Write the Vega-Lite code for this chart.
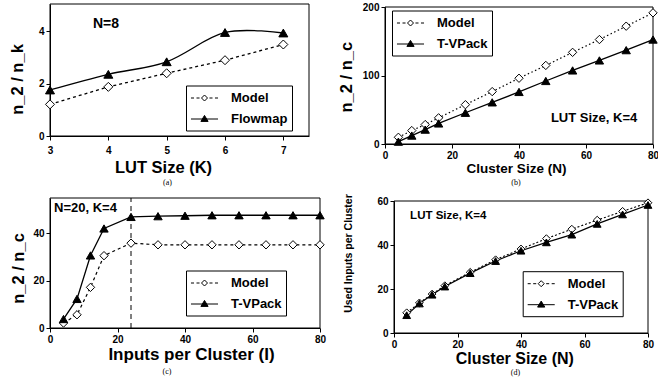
{
"$schema":"https://vega.github.io/schema/vega-lite/v6.json",
"padding":{"left":8,"top":2,"right":0,"bottom":4},
"background":"white",
"config":{
 "view":{"stroke":null},
 "font":"Liberation Sans",
 "axis":{"domainColor":"black","tickColor":"black","labelColor":"black","titleColor":"black","labelFont":"Liberation Sans","labelFontWeight":"bold","labelFontSize":10,"titleFont":"Liberation Sans","titleFontWeight":"bold","grid":false,"tickSize":4,"labelPadding":2,"labelFlush":false,"labelOverlap":false,"titleBaseline":"alphabetic","titleAlign":"center"},
 "legend":{"orient":"none","padding":4,"rowPadding":5,"symbolSize":256,"symbolOffset":6,"labelOffset":18,"labelFontSize":13,"labelFont":"Liberation Sans","labelFontWeight":"bold","labelColor":"black","strokeColor":"black","fillColor":"white","symbolStrokeColor":"black","symbolStrokeWidth":1,"symbolOpacity":1},
 "title":{"font":"Liberation Serif","fontSize":8,"fontWeight":"normal","color":"black","orient":"bottom"}
},
"datasets":{
 "a":[{"series":"Model","x":3,"y":1.21},{"series":"Model","x":4,"y":1.88},{"series":"Model","x":5,"y":2.40},{"series":"Model","x":6,"y":2.90},{"series":"Model","x":7,"y":3.50},
      {"series":"Flowmap","x":3,"y":1.76},{"series":"Flowmap","x":4,"y":2.36},{"series":"Flowmap","x":5,"y":2.84},{"series":"Flowmap","x":6,"y":3.96},{"series":"Flowmap","x":7,"y":3.94}],
 "b":[{"series":"Model","x":4,"y":9.8},{"series":"Model","x":8,"y":19.6},{"series":"Model","x":12,"y":28.4},{"series":"Model","x":16,"y":38.2},{"series":"Model","x":24,"y":57.4},{"series":"Model","x":32,"y":76.5},{"series":"Model","x":40,"y":96},{"series":"Model","x":48,"y":114.7},{"series":"Model","x":56,"y":133.8},{"series":"Model","x":64,"y":152.5},{"series":"Model","x":72,"y":172},{"series":"Model","x":80,"y":191.5},
      {"series":"T-VPack","x":4,"y":3.4},{"series":"T-VPack","x":8,"y":12.3},{"series":"T-VPack","x":12,"y":21},{"series":"T-VPack","x":16,"y":30},{"series":"T-VPack","x":24,"y":45.6},{"series":"T-VPack","x":32,"y":60.8},{"series":"T-VPack","x":40,"y":76},{"series":"T-VPack","x":48,"y":92},{"series":"T-VPack","x":56,"y":107.4},{"series":"T-VPack","x":64,"y":122},{"series":"T-VPack","x":72,"y":137},{"series":"T-VPack","x":80,"y":152.5}],
 "c":[{"series":"Model","x":4,"y":2.1},{"series":"Model","x":8,"y":5.6},{"series":"Model","x":12,"y":17.2},{"series":"Model","x":16,"y":30.6},{"series":"Model","x":24,"y":35.9},{"series":"Model","x":32,"y":35.2},{"series":"Model","x":40,"y":35.2},{"series":"Model","x":48,"y":35.2},{"series":"Model","x":56,"y":35.2},{"series":"Model","x":64,"y":35.2},{"series":"Model","x":72,"y":35.2},{"series":"Model","x":80,"y":35.2},
      {"series":"T-VPack","x":4,"y":3.8},{"series":"T-VPack","x":8,"y":12.3},{"series":"T-VPack","x":12,"y":30.7},{"series":"T-VPack","x":16,"y":42.1},{"series":"T-VPack","x":24,"y":47.0},{"series":"T-VPack","x":32,"y":47.3},{"series":"T-VPack","x":40,"y":47.5},{"series":"T-VPack","x":48,"y":47.7},{"series":"T-VPack","x":56,"y":47.7},{"series":"T-VPack","x":64,"y":47.7},{"series":"T-VPack","x":72,"y":47.7},{"series":"T-VPack","x":80,"y":47.7}],
 "d":[{"series":"Model","x":4,"y":9.2},{"series":"Model","x":8,"y":13.7},{"series":"Model","x":12,"y":17.7},{"series":"Model","x":16,"y":21.5},{"series":"Model","x":24,"y":27.6},{"series":"Model","x":32,"y":33.3},{"series":"Model","x":40,"y":38.2},{"series":"Model","x":48,"y":42.9},{"series":"Model","x":56,"y":47.2},{"series":"Model","x":64,"y":51.3},{"series":"Model","x":72,"y":55.3},{"series":"Model","x":80,"y":59.2},
      {"series":"T-VPack","x":4,"y":8.1},{"series":"T-VPack","x":8,"y":13.4},{"series":"T-VPack","x":12,"y":17.4},{"series":"T-VPack","x":16,"y":21.1},{"series":"T-VPack","x":24,"y":27.2},{"series":"T-VPack","x":32,"y":32.7},{"series":"T-VPack","x":40,"y":37.4},{"series":"T-VPack","x":48,"y":41.2},{"series":"T-VPack","x":56,"y":44.7},{"series":"T-VPack","x":64,"y":49.6},{"series":"T-VPack","x":72,"y":53.9},{"series":"T-VPack","x":80,"y":58.2}]
},
"columns":2,
"spacing":{"row":54,"column":65},
"bounds":"flush",
"resolve":{"scale":{"fill":"independent","shape":"independent","x":"independent","y":"independent"},"legend":{"fill":"independent","shape":"independent"},"axis":{"x":"independent","y":"independent"}},
"concat":[
  {"width":259,"height":132,
   "title":{"text":"(a)","dx":-12,"offset":3},
   "data":{"name":"a"},
   "layer":[
    {"data":{"values":[{}]},"mark":{"type":"rect","filled":false,"color":"black","strokeWidth":1},"encoding":{"x":{"datum":3},"x2":{"datum":7.44},"y":{"datum":0},"y2":{"datum":5.05}}},
    {"transform":[{"filter":"datum.series === 'Model'"}],"mark":{"type":"line","color":"black","strokeWidth":1.3,"strokeDash":[3,3]},
     "encoding":{"x":{"field":"x","type":"quantitative","scale":{"domain":[3,7.44],"nice":false,"zero":false},"axis":{"values":[3,4,5,6,7],"format":"d","title":"LUT Size (K)","titleFontSize":16.5,"titleX":113,"titleY":36.6,"labelPadding":5}},
                 "y":{"field":"y","type":"quantitative","scale":{"domain":[0,5.05],"nice":false},"axis":{"values":[0,1,2,3,4,5],"format":"d","labelExpr":"datum.value % 2 === 0 ? datum.label : ''","title":"n_2 / n_k","titleFontSize":16.5,"titleX":-28,"titleY":75}}}},
    {"transform":[{"filter":"datum.series === 'Flowmap'"}],"mark":{"type":"line","color":"black","strokeWidth":1.3,"interpolate":"cardinal"},
     "encoding":{"x":{"field":"x","type":"quantitative"},"y":{"field":"y","type":"quantitative"}}},
    {"mark":{"type":"point","filled":true,"stroke":"black","strokeWidth":1,"opacity":1,"size":81},
     "encoding":{"x":{"field":"x","type":"quantitative"},"y":{"field":"y","type":"quantitative"},
      "shape":{"field":"series","type":"nominal","scale":{"domain":["Flowmap","Model"],"range":["triangle-up","diamond"]},"legend":null},
      "fill":{"field":"series","type":"nominal","scale":{"domain":["Model","Flowmap"],"range":["white","black"]},
       "legend":{"title":null,"legendX":136,"legendY":81.5,"labelExpr":"datum.label + '      '",
        "symbolType":{"expr":"datum.value === 'Model' ? 'M-1.69,0H-1.31M-1,0H-0.62M0.62,0H1M1.31,0H1.69M0,-0.375L0.375,0L0,0.375L-0.375,0Z' : 'M-1.69,0H1.69M-0.45,0.3L0,-0.45L0.45,0.3Z'"},
        "encode":{"legend":{"strokeWidth":{"value":1.2}}}}}}},
    {"data":{"values":[{}]},"mark":{"type":"text","text":"N=8","font":"Liberation Sans","fontWeight":"bold","fontSize":14,"color":"black"},"encoding":{"x":{"datum":3.96},"y":{"datum":4.28}}}
   ]},
  {"width":268,"height":140,
   "title":{"text":"(b)","dx":-3,"offset":3.5},
   "data":{"name":"b"},
   "layer":[
    {"data":{"values":[{}]},"mark":{"type":"rect","filled":false,"color":"black","strokeWidth":1},"encoding":{"x":{"datum":0},"x2":{"datum":80},"y":{"datum":0},"y2":{"datum":200}}},
    {"transform":[{"filter":"datum.series === 'Model'"}],"mark":{"type":"line","color":"black","strokeWidth":1.2,"strokeDash":[1.5,2.5]},
     "encoding":{"x":{"field":"x","type":"quantitative","scale":{"domain":[0,80],"nice":false},"axis":{"values":[0,20,40,60,80],"title":"Cluster Size (N)","titleFontSize":13.5,"titleX":131,"titleY":28.8}},
                 "y":{"field":"y","type":"quantitative","scale":{"domain":[0,200],"nice":false,"range":[140,3]},"axis":{"values":[0,50,100,150,200],"title":"n_2 / n_c","titleFontSize":16.5,"titleX":-33.5,"titleY":72.7}}}},
    {"transform":[{"filter":"datum.series === 'T-VPack'"}],"mark":{"type":"line","color":"black","strokeWidth":1.3},
     "encoding":{"x":{"field":"x","type":"quantitative"},"y":{"field":"y","type":"quantitative"}}},
    {"mark":{"type":"point","filled":true,"stroke":"black","strokeWidth":1,"opacity":1,"size":70},
     "encoding":{"x":{"field":"x","type":"quantitative"},"y":{"field":"y","type":"quantitative"},
      "shape":{"field":"series","type":"nominal","scale":{"domain":["T-VPack","Model"],"range":["triangle-up","diamond"]},"legend":null},
      "fill":{"field":"series","type":"nominal","scale":{"domain":["Model","T-VPack"],"range":["white","black"]},
       "legend":{"title":null,"legendX":7,"legendY":6.5,"labelExpr":"datum.label + '        '",
        "symbolType":{"expr":"datum.value === 'Model' ? 'M-1.69,0H-1.31M-1,0H-0.62M0.62,0H1M1.31,0H1.69M0,-0.375L0.375,0L0,0.375L-0.375,0Z' : 'M-1.69,0H1.69M-0.45,0.3L0,-0.45L0.45,0.3Z'"},
        "encode":{"legend":{"strokeWidth":{"value":1.2}}}}}}},
    {"data":{"values":[{}]},"mark":{"type":"text","text":"LUT Size, K=4","font":"Liberation Sans","fontWeight":"bold","fontSize":13,"color":"black"},"encoding":{"x":{"datum":62.4},"y":{"datum":37.5}}}
   ]},
  {"width":270,"height":130,
   "title":{"text":"(c)","dx":-18,"offset":6},
   "data":{"name":"c"},
   "layer":[
    {"data":{"values":[{}]},"mark":{"type":"rect","filled":false,"color":"black","strokeWidth":1},"encoding":{"x":{"datum":0},"x2":{"datum":80},"y":{"datum":0},"y2":{"datum":55}}},
    {"data":{"values":[{}]},"mark":{"type":"rule","color":"black","strokeWidth":1,"strokeDash":[5,4]},"encoding":{"x":{"datum":24},"y":{"datum":0},"y2":{"datum":55}}},
    {"transform":[{"filter":"datum.series === 'Model'"}],"mark":{"type":"line","color":"black","strokeWidth":1.2,"strokeDash":[3,3]},
     "encoding":{"x":{"field":"x","type":"quantitative","scale":{"domain":[0,80],"nice":false},"axis":{"values":[0,20,40,60,80],"title":"Inputs per Cluster (I)","titleFontSize":17,"titleX":141,"titleY":31}},
                 "y":{"field":"y","type":"quantitative","scale":{"domain":[0,55],"nice":false},"axis":{"values":[0,10,20,30,40,50],"title":"n_2 / n_c","titleFontSize":16.5,"titleX":-27,"titleY":70}}}},
    {"transform":[{"filter":"datum.series === 'T-VPack'"}],"mark":{"type":"line","color":"black","strokeWidth":1.3},
     "encoding":{"x":{"field":"x","type":"quantitative"},"y":{"field":"y","type":"quantitative"}}},
    {"mark":{"type":"point","filled":true,"stroke":"black","strokeWidth":1,"opacity":1,"size":70},
     "encoding":{"x":{"field":"x","type":"quantitative"},"y":{"field":"y","type":"quantitative"},
      "shape":{"field":"series","type":"nominal","scale":{"domain":["T-VPack","Model"],"range":["triangle-up","diamond"]},"legend":null},
      "fill":{"field":"series","type":"nominal","scale":{"domain":["Model","T-VPack"],"range":["white","black"]},
       "legend":{"title":null,"legendX":136,"legendY":72.5,"labelExpr":"datum.label + '         '",
        "symbolType":{"expr":"datum.value === 'Model' ? 'M-1.69,0H-1.31M-1,0H-0.62M0.62,0H1M1.31,0H1.69M0,-0.375L0.375,0L0,0.375L-0.375,0Z' : 'M-1.69,0H1.69M-0.45,0.3L0,-0.45L0.45,0.3Z'"},
        "encode":{"legend":{"strokeWidth":{"value":1.2}}}}}}},
    {"data":{"values":[{}]},"mark":{"type":"text","text":"N=20, K=4","font":"Liberation Sans","fontWeight":"bold","fontSize":13,"color":"black"},"encoding":{"x":{"datum":10.5},"y":{"datum":50.8}}}
   ]},
  {"width":263,"height":135,
   "title":{"text":"(d)","dx":-1,"offset":2.7},
   "data":{"name":"d"},
   "layer":[
    {"data":{"values":[{}]},"mark":{"type":"rect","filled":false,"color":"black","strokeWidth":1},"encoding":{"x":{"datum":0},"x2":{"datum":80},"y":{"datum":0},"y2":{"datum":60}}},
    {"transform":[{"filter":"datum.series === 'Model'"}],"mark":{"type":"line","color":"black","strokeWidth":1.1,"strokeDash":[2,2]},
     "encoding":{"x":{"field":"x","type":"quantitative","scale":{"domain":[0,80],"nice":false,"range":[9,263]},"axis":{"values":[0,20,40,60,80],"title":"Cluster Size (N)","titleFontSize":16,"titleX":129.3,"titleY":30.5}},
                 "y":{"field":"y","type":"quantitative","scale":{"domain":[0,60],"nice":false,"range":[135,3]},"axis":{"offset":-9,"values":[0,10,20,30,40,50,60],"labelExpr":"datum.value % 20 === 0 ? datum.label : ''","title":"Used Inputs per Cluster","titleFontSize":10.5,"titleX":-43,"titleY":55}}}},
    {"transform":[{"filter":"datum.series === 'T-VPack'"}],"mark":{"type":"line","color":"black","strokeWidth":1.2},
     "encoding":{"x":{"field":"x","type":"quantitative"},"y":{"field":"y","type":"quantitative"}}},
    {"mark":{"type":"point","filled":true,"stroke":"black","strokeWidth":1,"opacity":1,"size":60},
     "encoding":{"x":{"field":"x","type":"quantitative"},"y":{"field":"y","type":"quantitative"},
      "shape":{"field":"series","type":"nominal","scale":{"domain":["T-VPack","Model"],"range":["triangle-up","diamond"]},"legend":null},
      "fill":{"field":"series","type":"nominal","scale":{"domain":["Model","T-VPack"],"range":["white","black"]},
       "legend":{"title":null,"legendX":137.7,"legendY":73.2,"labelExpr":"datum.label + '      '",
        "symbolType":{"expr":"datum.value === 'Model' ? 'M-1.69,0H-1.31M-1,0H-0.62M0.62,0H1M1.31,0H1.69M0,-0.375L0.375,0L0,0.375L-0.375,0Z' : 'M-1.69,0H1.69M-0.45,0.3L0,-0.45L0.45,0.3Z'"},
        "encode":{"legend":{"strokeWidth":{"value":1.2}}}}}}},
    {"data":{"values":[{}]},"mark":{"type":"text","text":"LUT Size, K=4","font":"Liberation Sans","fontWeight":"bold","fontSize":11.5,"color":"black"},"encoding":{"x":{"datum":17.1},"y":{"datum":53}}}
   ]}
]
}
